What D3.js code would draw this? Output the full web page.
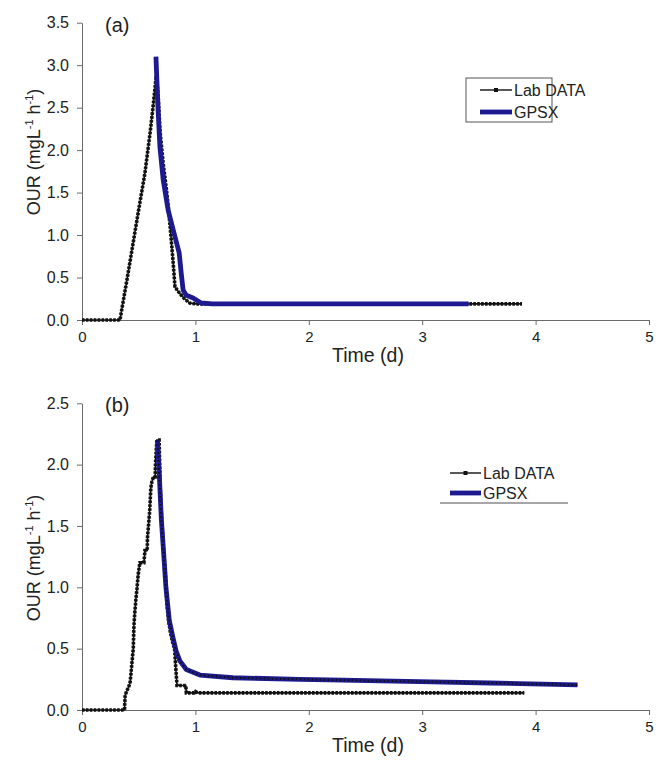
<!DOCTYPE html>
<html>
<head>
<meta charset="utf-8">
<script src="https://cdn.jsdelivr.net/npm/d3@7"></script>
<style>
    body { margin: 0; background: #fff; }
    svg { font-family: Arial, "Liberation Sans", sans-serif; }
    .axis path, .axis line { stroke: #6a6a6a; }
    .axis text { fill: #222; }
</style>
</head>
<body>
<div id="chart"></div>
<script>
// OUR curves, lab data vs GPSX model - two panels (a) and (b)

// panel (a)
let labA_t = [0, 0.335, 0.345, 0.40, 0.45, 0.50, 0.555, 0.60, 0.63, 0.655, 0.672, 0.687, 0.716, 0.745, 0.769, 0.79, 0.804, 0.82, 0.863, 0.905, 0.95, 1.0, 3.88];
let labA_v = [0, 0, 0.08, 0.50, 0.90, 1.30, 1.73, 2.20, 2.55, 2.88, 2.63, 2.24, 1.84, 1.53, 1.22, 0.90, 0.67, 0.39, 0.31, 0.25, 0.20, 0.19, 0.19];
let gpsxA_t = [0.652, 0.67, 0.687, 0.716, 0.76, 0.82, 0.857, 0.875, 0.892, 0.92, 0.98, 1.05, 1.15, 3.41];
let gpsxA_v = [3.10, 2.50, 2.04, 1.65, 1.29, 0.98, 0.79, 0.55, 0.35, 0.29, 0.26, 0.20, 0.19, 0.19];

// panel (b)
let labB_t = [0, 0.375, 0.38, 0.393, 0.416, 0.425, 0.437, 0.452, 0.458, 0.466, 0.475, 0.486, 0.495, 0.51, 0.546, 0.555, 0.575, 0.577, 0.586, 0.595, 0.601, 0.607, 0.616, 0.63, 0.645, 0.648, 0.654, 0.66, 0.68, 0.685, 0.69, 0.70, 0.71, 0.72, 0.735, 0.75, 0.765, 0.78, 0.80, 0.816, 0.825, 0.83, 0.838, 0.915, 0.92, 0.99, 1.0, 1.02, 3.9];
let labB_v = [0, 0, 0.12, 0.15, 0.20, 0.23, 0.35, 0.50, 0.69, 0.80, 0.90, 1.00, 1.10, 1.20, 1.20, 1.30, 1.30, 1.40, 1.50, 1.60, 1.70, 1.81, 1.86, 1.90, 1.90, 2.00, 2.10, 2.20, 2.20, 2.00, 1.80, 1.60, 1.44, 1.28, 1.11, 0.85, 0.72, 0.63, 0.55, 0.50, 0.37, 0.30, 0.20, 0.20, 0.14, 0.14, 0.15, 0.14, 0.14];
let gpsxB_t = [0.665, 0.68, 0.70, 0.72, 0.74, 0.77, 0.80, 0.83, 0.863, 0.92, 1.04, 1.33, 1.92, 2.18, 3.09, 3.6, 4.37];
let gpsxB_v = [2.20, 1.95, 1.55, 1.28, 1.00, 0.73, 0.60, 0.48, 0.40, 0.33, 0.285, 0.263, 0.25, 0.245, 0.23, 0.22, 0.204];

let xTicks = [0, 1, 2, 3, 4, 5];
let yTicksA = [0, 0.5, 1.0, 1.5, 2.0, 2.5, 3.0, 3.5];
let yTicksB = [0, 0.5, 1.0, 1.5, 2.0, 2.5];
let seriesNames = ["Lab DATA", "GPSX"];

const blue = "#1c1a8e";

let svg = d3.select("#chart").append("svg")
    .attr("width", 656)
    .attr("height", 762);

function zip(t, v) {
    return t.map((d, i) => ({t: d, v: v[i]}));
}

class OurPanel {

    constructor(opts) {
        this.opts = opts;
        this.initVis();
    }

    initVis() {
        let vis = this;
        let o = vis.opts;

        vis.x = d3.scaleLinear().domain([0, 5]).range([82, 649]);
        vis.y = d3.scaleLinear().domain([0, o.yMax]).range([o.bottom, o.top]);

        vis.g = svg.append("g");

        // axes
        vis.g.append("g")
            .attr("class", "axis")
            .attr("transform", "translate(0," + o.bottom + ")")
            .call(d3.axisBottom(vis.x).tickValues(xTicks).tickFormat(d3.format("d"))
                .tickSize(5).tickSizeOuter(0).tickPadding(6))
            .call(g => g.selectAll("text").style("font-size", "15px"));

        vis.g.append("g")
            .attr("class", "axis")
            .attr("transform", "translate(82,0)")
            .call(d3.axisLeft(vis.y).tickValues(o.yTicks).tickFormat(d3.format(".1f"))
                .tickSize(5).tickSizeOuter(0).tickPadding(8))
            .call(g => g.selectAll("text").style("font-size", "16px"));

        // y label
        let yl = vis.g.append("text")
            .attr("transform", "translate(40," + o.yLabelMid + ") rotate(-90)")
            .attr("text-anchor", "middle")
            .style("font-size", "18px")
            .attr("fill", "#222");
        yl.append("tspan").text("OUR (mgL");
        yl.append("tspan").attr("dy", -7).style("font-size", "11px").text("-1");
        yl.append("tspan").attr("dy", 7).text(" h");
        yl.append("tspan").attr("dy", -7).style("font-size", "11px").text("-1");
        yl.append("tspan").attr("dy", 7).text(")");

        // x label
        vis.g.append("text")
            .attr("x", 368)
            .attr("y", o.bottom + 42)
            .attr("text-anchor", "middle")
            .style("font-size", "19.5px")
            .attr("fill", "#222")
            .text("Time (d)");

        // panel tag
        vis.g.append("text")
            .attr("x", 105)
            .attr("y", o.top + 9)
            .style("font-size", "20px")
            .attr("fill", "#222")
            .text(o.tag);

        vis.line = d3.line().x(d => vis.x(d.t)).y(d => vis.y(d.v));

        vis.updateVis();
    }

    updateVis() {
        let vis = this;
        let o = vis.opts;

        let lab = zip(o.labT, o.labV);
        let gpsx = zip(o.gpsxT, o.gpsxV);

        // lab data: thin line + dense square markers
        vis.g.append("path").datum(lab)
            .attr("d", vis.line)
            .attr("fill", "none")
            .attr("stroke", "#111")
            .attr("stroke-width", 1.6);
        vis.g.append("path").datum(lab)
            .attr("d", vis.line)
            .attr("fill", "none")
            .attr("stroke", "#111")
            .attr("stroke-width", 3.6)
            .attr("stroke-dasharray", "2.6,1.3");

        // GPSX model
        vis.g.append("path").datum(gpsx)
            .attr("d", vis.line)
            .attr("fill", "none")
            .attr("stroke", blue)
            .attr("stroke-width", 4.8)
            .attr("stroke-linejoin", "round");

        if (o.gpsxDots) {
            vis.g.append("path").datum(gpsx)
                .attr("d", vis.line)
                .attr("fill", "none")
                .attr("stroke", "#111")
                .attr("stroke-width", 2)
                .attr("stroke-dasharray", "1.6,2.4");
        }

        // legend
        let lg = vis.g.append("g");
        let L = o.legend;
        if (L.box) {
            lg.append("rect")
                .attr("x", L.box[0]).attr("y", L.box[1])
                .attr("width", L.box[2]).attr("height", L.box[3])
                .attr("fill", "none")
                .attr("stroke", "#555")
                .attr("stroke-width", 1);
        }
        if (L.underline) {
            lg.append("line")
                .attr("x1", L.underline[0]).attr("x2", L.underline[1])
                .attr("y1", L.underline[2]).attr("y2", L.underline[2])
                .attr("stroke", "#888").attr("stroke-width", 1.5);
        }
        seriesNames.forEach((name, i) => {
            let yy = L.y + i * L.dy;
            if (i === 0) {
                lg.append("line")
                    .attr("x1", L.x1).attr("x2", L.x2)
                    .attr("y1", yy).attr("y2", yy)
                    .attr("stroke", "#111").attr("stroke-width", 1.4);
                lg.append("rect")
                    .attr("x", (L.x1 + L.x2) / 2 - 2).attr("y", yy - 2)
                    .attr("width", 4).attr("height", 4)
                    .attr("fill", "#111");
            } else {
                lg.append("line")
                    .attr("x1", L.x1).attr("x2", L.x2)
                    .attr("y1", yy).attr("y2", yy)
                    .attr("stroke", blue).attr("stroke-width", 4.8);
            }
            lg.append("text")
                .attr("x", L.x2 + 2)
                .attr("y", yy + 6)
                .style("font-size", "16px")
                .attr("fill", "#222")
                .text(name);
        });
    }
}

new OurPanel({
    top: 22.7, bottom: 320, yMax: 3.5, yTicks: yTicksA, yLabelMid: 152, tag: "(a)",
    labT: labA_t, labV: labA_v, gpsxT: gpsxA_t, gpsxV: gpsxA_v, gpsxDots: false,
    legend: {x1: 480, x2: 512, y: 90, dy: 22, box: [466, 78, 86, 44]}
});

new OurPanel({
    top: 403.3, bottom: 710, yMax: 2.5, yTicks: yTicksB, yLabelMid: 558, tag: "(b)",
    labT: labB_t, labV: labB_v, gpsxT: gpsxB_t, gpsxV: gpsxB_v, gpsxDots: true,
    legend: {x1: 450, x2: 481, y: 473, dy: 20, underline: [440, 568, 503]}
});
</script>
</body>
</html>
